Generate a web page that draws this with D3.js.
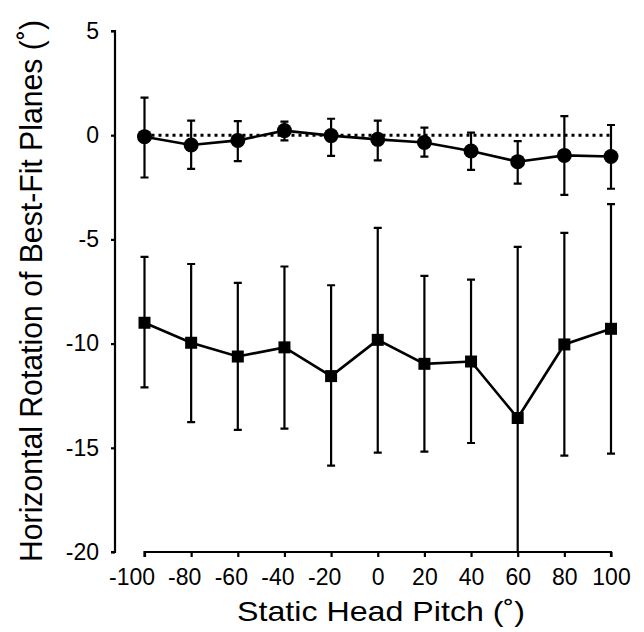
<!DOCTYPE html>
<html><head><meta charset="utf-8">
<script src="https://cdn.jsdelivr.net/npm/d3@7"></script>
<style>body{margin:0;background:#fff}svg{display:block}text{font-family:"Liberation Sans",Arial,Helvetica,sans-serif;fill:#000}</style>
</head><body>
<script>
const pitch = [-100,-80,-60,-40,-20,0,20,40,60,80,100];
const circleMean = [-0.07,-0.47,-0.25,0.22,-0.02,-0.2,-0.35,-0.76,-1.27,-0.97,-1.02];
const circleHigh = [1.8,0.7,0.68,0.65,0.79,0.7,0.36,0.12,-0.28,0.92,0.49];
const circleLow = [-2.03,-1.62,-1.24,-0.25,-0.99,-1.21,-1.03,-1.66,-2.32,-2.86,-2.57];
const squareMean = [-9.0,-9.96,-10.62,-10.18,-11.56,-9.82,-10.97,-10.86,-13.57,-10.04,-9.29];
const squareHigh = [-5.84,-6.18,-7.09,-6.3,-7.2,-4.45,-6.75,-6.93,-5.36,-4.69,-3.31];
const squareLow = [-12.1,-13.77,-14.14,-14.08,-15.86,-15.23,-15.18,-14.77,-20,-15.38,-15.28];
const xTicks = [-100,-80,-60,-40,-20,0,20,40,60,80,100];
const yTicks = [5,0,-5,-10,-15,-20];
const referenceLevel = 0;
const xTitle = "Static Head Pitch (˚)";
const yTitle = "Horizontal Rotation of Best-Fit Planes (˚)";

const W = 644, H = 632;
const svg = d3.select("body").append("svg").attr("width", W).attr("height", H);
const x = d3.scaleLinear().domain([-100,100]).range([144.5,611]);
const y = d3.scaleLinear().domain([-20,5]).range([552,31]);
const yAxisX = 115;
const fmt = d => String(d);

// y axis
const ya = svg.append("g").attr("transform", `translate(${yAxisX},0)`)
  .call(d3.axisLeft(y).tickValues(yTicks).tickSize(4).tickPadding(12).tickFormat(fmt));
ya.select(".domain").attr("d", `M-4,${y(5)}H0V${y(-20)}H-4`).attr("stroke-width", 2.2);
ya.selectAll(".tick line").attr("stroke-width", 2.2);
ya.selectAll(".tick text").attr("font-size", 23).attr("font-family", '"Liberation Sans",Arial,sans-serif');

// x axis
const xa = svg.append("g").attr("transform", `translate(0,${y(-20)})`)
  .call(d3.axisBottom(x).tickValues(xTicks).tickSize(5).tickPadding(12).tickFormat(fmt));
xa.select(".domain").attr("d", `M${x(-100)},5V0H${x(100)}V5`).attr("stroke-width", 2.2);
xa.selectAll(".tick line").attr("stroke-width", 2.2);
xa.selectAll(".tick text").attr("font-size", 23).attr("font-family", '"Liberation Sans",Arial,sans-serif')
  .attr("dx", d => d === -100 ? -13 : (d < 0 ? -7 : 0));

// titles
svg.append("text").attr("x", 381).attr("y", 621).attr("text-anchor", "middle")
  .attr("font-size", 28).attr("textLength", 288).attr("lengthAdjust", "spacingAndGlyphs").text(xTitle);
svg.append("text").attr("transform", `translate(42,291) rotate(-90)`).attr("text-anchor", "middle")
  .attr("font-size", 31).attr("textLength", 542).attr("lengthAdjust", "spacingAndGlyphs").text(yTitle);

// reference dotted line
svg.append("line").attr("x1", x(-100)).attr("x2", x(100)).attr("y1", y(referenceLevel)).attr("y2", y(referenceLevel))
  .attr("stroke", "#000").attr("stroke-width", 3).attr("stroke-dasharray", "3,4");

function series(mean, hi, lo, shape) {
  const g = svg.append("g");
  const data = pitch.map((p,i) => ({p, m: mean[i], hi: hi[i], lo: lo[i]}));
  g.selectAll(".eb").data(data).join("path")
    .attr("d", d => `M${x(d.p)},${y(d.hi)}V${y(d.lo)}M${x(d.p)-4},${y(d.hi)}h8` + (d.lo > -20 ? `M${x(d.p)-4},${y(d.lo)}h8` : ""))
    .attr("stroke", "#000").attr("stroke-width", 2.2).attr("fill", "none");
  g.append("path").datum(data)
    .attr("d", d3.line().x(d => x(d.p)).y(d => y(d.m)))
    .attr("stroke", "#000").attr("stroke-width", 2.6).attr("fill", "none");
  if (shape === "circle") {
    g.selectAll(".mk").data(data).join("circle").attr("cx", d => x(d.p)).attr("cy", d => y(d.m)).attr("r", 7.5).attr("fill", "#000");
  } else {
    g.selectAll(".mk").data(data).join("rect").attr("x", d => x(d.p)-6).attr("y", d => y(d.m)-6).attr("width", 12).attr("height", 12).attr("fill", "#000");
  }
}
series(squareMean, squareHigh, squareLow, "square");
series(circleMean, circleHigh, circleLow, "circle");
</script>
</body></html>
